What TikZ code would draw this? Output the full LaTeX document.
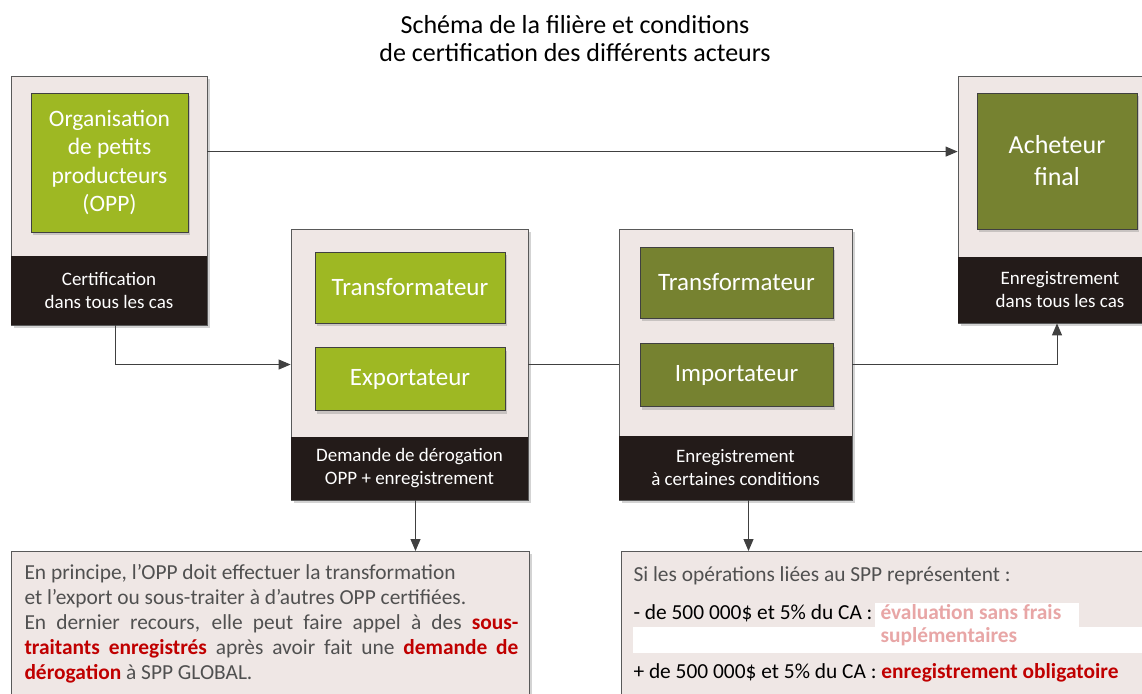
\documentclass[tikz,border=0pt]{standalone}
\usepackage{fontspec}
\setmainfont{Carlito}
\usetikzlibrary{arrows.meta,positioning,shadows}

\definecolor{panelgray}{RGB}{239,231,229}
\definecolor{banddark}{RGB}{35,27,25}
\definecolor{limegreen}{RGB}{158,184,35}
\definecolor{olivegreen}{RGB}{118,130,48}
\definecolor{alertred}{RGB}{192,0,0}
\definecolor{palered}{RGB}{232,166,166}
\definecolor{notegray}{RGB}{80,80,80}

\begin{document}
\begin{tikzpicture}[x=1pt,y=-1pt,>={Triangle[length=12pt,width=10pt]}, line width=1pt]

    \tikzstyle{panel}=[draw=black!65, fill=panelgray, line width=0.8pt,
      drop shadow={opacity=0.35, shadow xshift=3pt, shadow yshift=-3pt}]
    \tikzstyle{band}=[fill=banddark, text=white, align=center, anchor=south,
      font=\fontsize{19}{23}\selectfont]
    \tikzstyle{actor}=[draw=black!75, line width=0.8pt, text=white, align=center,
      font=\fontsize{25}{28.5}\selectfont,
      drop shadow={opacity=0.35, shadow xshift=2pt, shadow yshift=-3pt}]
    \tikzstyle{lime}=[actor, fill=limegreen]
    \tikzstyle{olive}=[actor, fill=olivegreen]
    \tikzstyle{link}=[draw=black!75]
    \tikzstyle{note}=[draw=black!65, fill=panelgray, line width=0.8pt, anchor=north west,
      drop shadow={opacity=0.35, shadow xshift=3pt, shadow yshift=-3pt}]
    \tikzstyle{notetext}=[anchor=west, inner sep=0pt, font=\fontsize{21.4}{25}\selectfont]

    \useasboundingbox (0,0) rectangle (1142,693);

    % titre
    \node[align=center, font=\fontsize{26}{28}\selectfont] (title) at (575,39)
      {Schéma de la filière et conditions\\de certification des différents acteurs};

    % OPP
    \node[panel, minimum width=196pt, minimum height=249pt] (oppP) at (109,200.5) {};
    \node[band, minimum width=196pt, minimum height=69pt] (oppB) at (oppP.south)
      {Certification\\dans tous les cas};
    \node[lime, minimum width=157pt, minimum height=139pt, font=\fontsize{23.5}{28.5}\selectfont]
      (opp) at (109.5,162.5) {Organisation\\de petits\\producteurs\\(OPP)};

    % transformateur / exportateur
    \node[panel, minimum width=237pt, minimum height=271pt] (m1P) at (409.5,364.5) {};
    \node[band, minimum width=237pt, minimum height=63pt] (m1B) at (m1P.south)
      {Demande de dérogation\\OPP + enregistrement};
    \node[lime, minimum width=190pt, minimum height=71pt] (trans1) at (410,287.5) {Transformateur};
    \node[lime, minimum width=190pt, minimum height=63pt, below=24pt of trans1] (export) {Exportateur};

    % transformateur / importateur
    \node[panel, minimum width=233pt, minimum height=271pt] (m2P) at (735.5,364.5) {};
    \node[band, minimum width=233pt, minimum height=64pt] (m2B) at (m2P.south)
      {Enregistrement\\à certaines conditions};
    \node[olive, minimum width=193pt, minimum height=71pt] (trans2) at (736.5,282.5) {Transformateur};
    \node[olive, minimum width=193pt, minimum height=63pt, below=25pt of trans2] (import) {Importateur};

    % acheteur final
    \node[panel, minimum width=204pt, minimum height=247pt] (acheP) at (1060,199.5) {};
    \node[band, minimum width=204pt, minimum height=66pt] (acheB) at (acheP.south)
      {Enregistrement\\dans tous les cas};
    \node[olive, minimum width=160pt, minimum height=136pt, font=\fontsize{26}{32}\selectfont]
      (ache) at (1057,161) {Acheteur\\final};

    % notes
    \node[note, minimum width=518pt, minimum height=160pt] (note1) at (11,551) {};
    \node[note, minimum width=540pt, minimum height=160pt] (note2) at (621,551) {};

    \node[notetext, anchor=north west, text width=494pt, align=justify, text=notegray] (note1txt)
      at (24,564) {En principe, l’OPP doit effectuer la transformation\\
      et l’export ou sous-traiter à d’autres OPP certifiées.\par
      \noindent En dernier recours, elle peut faire appel à des \textbf{\color{alertred}sous-}\linebreak
      \textbf{\color{alertred}traitants enregistrés} après avoir fait une \textbf{\color{alertred}demande de}\linebreak
      \textbf{\color{alertred}dérogation} à SPP GLOBAL.};

    \fill[white] (875,603) rectangle (1079,627);
    \fill[white] (633,627) rectangle (1160,653);
    \node[notetext, text=notegray] (siText) at (633,576) {Si les opérations liées au SPP représentent~:};
    \node[notetext] (lowText) at (633,613) {- de 500 000\$ et 5\% du CA :};
    \node[notetext, anchor=north west, align=left, text=palered, font=\bfseries\fontsize{21.4}{23}\selectfont]
      (lowEval) at (880,603.5) {évaluation sans frais\\suplémentaires};
    \node[notetext] (highText) at (633,673)
      {+ de 500 000\$ et 5\% du CA : \textbf{\color{alertred}enregistrement obligatoire}};

    % liaisons
    \coordinate (d0) at ([xshift=6pt]oppB.south);
    \coordinate (d1) at ([xshift=6pt]m1B.south);
    \coordinate (d2) at ([xshift=13pt]m2B.south);
    \coordinate (d3) at ([xshift=-3pt]acheB.south);

    \draw[link, ->] ([yshift=-76pt]oppP.north east) -- ([yshift=-76pt]acheP.north west);
    \draw[link, ->] (d0) |- (m1P.west);
    \draw[link] (m1P.east) -- (m2P.west);
    \draw[link, ->] (m2P.east) -| (d3);
    \draw[link, ->] (d1) -- (d1 |- note1.north);
    \draw[link, ->] (d2) -- (d2 |- note2.north);
\end{tikzpicture}
\end{document}
